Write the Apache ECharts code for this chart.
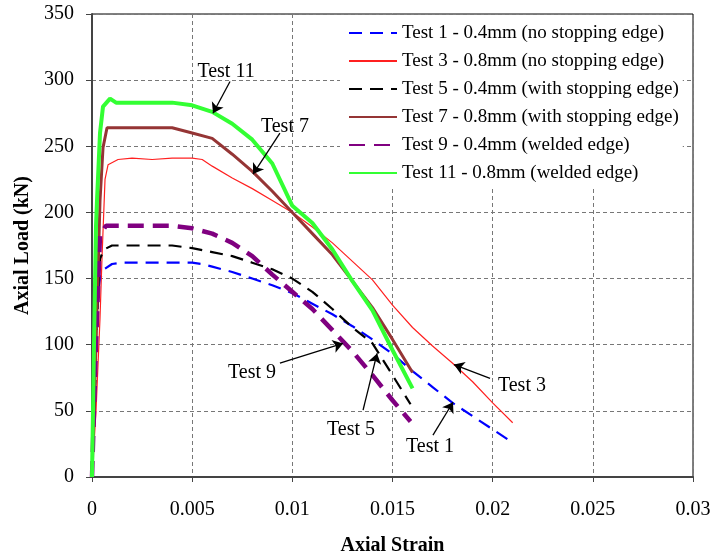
<!DOCTYPE html>
<html><head><meta charset="utf-8">
<script src="https://cdn.jsdelivr.net/npm/echarts@6/dist/echarts.min.js"></script>
<style>html,body{margin:0;padding:0;background:#fff}#c{width:713px;height:556px}</style>
</head><body><div id="c"></div>
<script>
var seriesNames = [
  'Test 1 - 0.4mm (no stopping edge)',
  'Test 3 - 0.8mm (no stopping edge)',
  'Test 5 - 0.4mm (with stopping edge)',
  'Test 7 - 0.8mm (with stopping edge)',
  'Test 9 - 0.4mm (welded edge)',
  'Test 11 - 0.8mm (welded edge)'
];
var xTicks = [0, 0.005, 0.01, 0.015, 0.02, 0.025, 0.03];
var yTicks = [0, 50, 100, 150, 200, 250, 300, 350];

var test1Strain = [0, 0.0001, 0.0002, 0.0003, 0.0004, 0.0006, 0.001, 0.0015, 0.002, 0.003, 0.004, 0.005, 0.0055, 0.006, 0.007, 0.008, 0.009, 0.01, 0.011, 0.012, 0.013, 0.014, 0.015, 0.016, 0.017, 0.018, 0.019, 0.02, 0.0209];
var test1Load   = [0, 40, 90, 138, 150, 157, 161, 162, 162, 162, 162, 162, 161, 159, 155, 150, 145, 139, 131, 123, 114, 104, 93, 80, 68, 56, 46, 36, 27];

var test3Strain = [0, 0.0002, 0.0004, 0.0005, 0.00065, 0.0008, 0.0013, 0.002, 0.003, 0.004, 0.005, 0.0055, 0.006, 0.007, 0.008, 0.009, 0.01, 0.011, 0.012, 0.013, 0.014, 0.015, 0.016, 0.017, 0.018, 0.019, 0.02, 0.021];
var test3Load   = [0, 50, 120, 166, 225, 236, 240, 241, 240, 241, 241, 240, 235, 226, 218, 209, 200, 189, 177, 163, 149, 130, 113, 99, 86, 72, 56, 41];

var test5Strain = [0, 0.0002, 0.0003, 0.0004, 0.0006, 0.001, 0.002, 0.003, 0.004, 0.005, 0.006, 0.007, 0.008, 0.009, 0.01, 0.011, 0.012, 0.013, 0.014, 0.015, 0.0159];
var test5Load   = [0, 90, 140, 165, 172, 175, 175, 175, 175, 173, 170, 167, 162, 157, 150, 140, 127, 113, 101, 77, 55];

var test7Strain = [0, 0.0002, 0.0004, 0.00055, 0.00075, 0.001, 0.002, 0.003, 0.004, 0.005, 0.006, 0.007, 0.008, 0.009, 0.01, 0.011, 0.012, 0.013, 0.014, 0.015, 0.016];
var test7Load   = [0, 100, 209, 249, 264, 264, 264, 264, 264, 260, 256, 244, 231, 216, 200, 184, 168, 148, 128, 104, 79];

var test9Strain = [0, 0.0002, 0.0004, 0.0007, 0.001, 0.002, 0.003, 0.004, 0.005, 0.006, 0.007, 0.008, 0.009, 0.01, 0.011, 0.012, 0.013, 0.014, 0.015, 0.0159];
var test9Load   = [0, 100, 183, 190, 190, 190, 190, 190, 188, 184, 177, 167, 153, 140, 127, 111, 95, 77, 58, 42];

var test11Strain = [0, 0.0001, 0.0002, 0.00025, 0.0004, 0.00055, 0.0009, 0.0012, 0.002, 0.003, 0.004, 0.005, 0.006, 0.007, 0.008, 0.009, 0.01, 0.011, 0.012, 0.013, 0.014, 0.015, 0.016];
var test11Load   = [0, 100, 190, 209, 260, 280, 286, 283, 283, 283, 283, 281, 276, 267, 255, 237, 205, 192, 172, 148, 126, 96, 67];

var annoLabels = ['Test 11', 'Test 7', 'Test 9', 'Test 5', 'Test 3', 'Test 1'];
var annoTextAt = [[0.00669, 306.7], [0.00963, 265], [0.00799, 79], [0.01293, 36], [0.02146, 69], [0.01687, 22.6]];
var annoFrom   = [[0.00689, 299], [0.00938, 260], [0.00938, 86], [0.01353, 50.5], [0.01987, 74.6], [0.01702, 31.6]];
var annoTo     = [[0.00604, 275], [0.00804, 229], [0.01253, 101], [0.01423, 93.4], [0.01807, 85], [0.01802, 56.5]];

function pairs(xs, ys) { return xs.map(function (x, i) { return [x, ys[i]]; }); }

var FONT = 'Liberation Serif';
var styles = [
  { color: '#0000ff', width: 2.2, type: [13, 8] },
  { color: '#ff2020', width: 1.2, type: 'solid' },
  { color: '#000000', width: 2.2, type: [13, 8] },
  { color: '#953535', width: 3, type: 'solid' },
  { color: '#800080', width: 4.5, type: [16, 9] },
  { color: '#33ff33', width: 4, type: 'solid' }
];
var allData = [
  pairs(test1Strain, test1Load), pairs(test3Strain, test3Load), pairs(test5Strain, test5Load),
  pairs(test7Strain, test7Load), pairs(test9Strain, test9Load), pairs(test11Strain, test11Load)
];
var series = seriesNames.map(function (n, i) {
  return {
    name: n, type: 'line', data: allData[i], symbol: 'none', showSymbol: false,
    lineStyle: styles[i], itemStyle: { color: styles[i].color }, animation: false, z: 3
  };
});
series.push({
  name: 'anno', type: 'line', data: [], animation: false, z: 5,
  markLine: {
    silent: true, animation: false, symbol: ['none', 'arrow'], symbolSize: 10,
    lineStyle: { color: '#000', width: 1.3, type: 'solid' }, label: { show: false },
    data: annoFrom.map(function (f, i) { return [{ coord: f }, { coord: annoTo[i] }]; })
  },
  markPoint: {
    silent: true, animation: false, symbol: 'rect', symbolSize: 1,
    itemStyle: { color: 'rgba(0,0,0,0)' },
    label: { show: true, position: 'inside', color: '#000', fontFamily: FONT, fontSize: 20, formatter: '{b}' },
    data: annoLabels.map(function (t, i) { return { name: t, coord: annoTextAt[i] }; })
  }
});

var chart = echarts.init(document.getElementById('c'), null, { renderer: 'canvas' });
chart.setOption({
  backgroundColor: '#fff',
  animation: false,
  grid: { left: 92, right: 20, top: 14, bottom: 79, show: true, borderColor: '#000', borderWidth: 1,
    backgroundColor: 'rgba(0,0,0,0)', containLabel: false, outerBoundsMode: 'none' },
  legend: {
    data: seriesNames, orient: 'vertical', left: 340, top: 15,
    padding: [8, 4, 4, 8], backgroundColor: '#fff',
    itemWidth: 48, itemHeight: 14, itemGap: 8,
    itemStyle: { opacity: 0 },
    textStyle: { fontFamily: FONT, fontSize: 19, color: '#000', lineHeight: 20 },
    z: 10
  },
  xAxis: {
    type: 'value', min: xTicks[0], max: xTicks[xTicks.length - 1], interval: xTicks[1] - xTicks[0],
    name: 'Axial Strain', nameLocation: 'middle', nameGap: 59,
    nameTextStyle: { fontFamily: FONT, fontSize: 20, fontWeight: 'bold', color: '#000' },
    axisLine: { show: true, onZero: false, lineStyle: { color: '#444', width: 2 } },
    axisTick: { show: true, inside: false, length: 5, lineStyle: { color: '#444' } },
    axisLabel: { fontFamily: FONT, fontSize: 20, color: '#000', margin: 23,
      formatter: function (v) { return String(+v.toFixed(4)); } },
    splitLine: { show: true, lineStyle: { color: '#777', type: [4, 3], width: 1 } }
  },
  yAxis: {
    type: 'value', min: yTicks[0], max: yTicks[yTicks.length - 1], interval: yTicks[1] - yTicks[0],
    name: 'Axial Load (kN)', nameLocation: 'middle', nameGap: 58,
    nameTextStyle: { fontFamily: FONT, fontSize: 20, fontWeight: 'bold', color: '#000' },
    axisLine: { show: true, lineStyle: { color: '#444', width: 2 } },
    axisTick: { show: true, inside: false, length: 6, lineStyle: { color: '#444' } },
    axisLabel: { fontFamily: FONT, fontSize: 20, color: '#000', margin: 18 },
    splitLine: { show: true, lineStyle: { color: '#777', type: [4, 3], width: 1 } }
  },
  series: series
});
</script></body></html>
